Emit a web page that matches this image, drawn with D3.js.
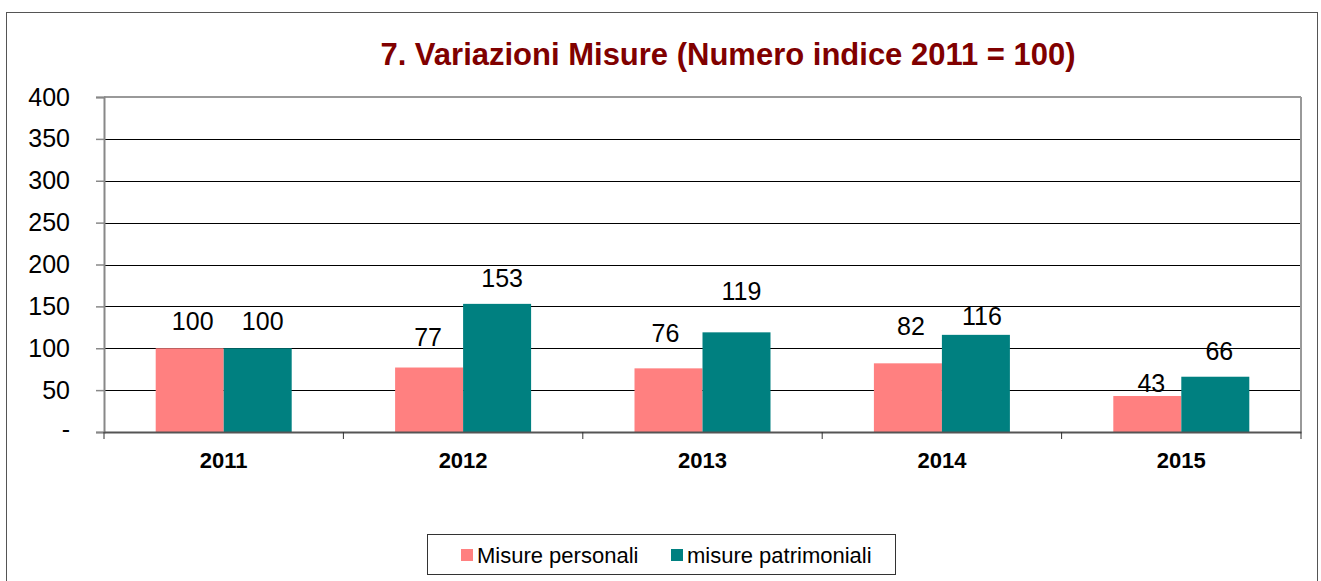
<!DOCTYPE html>
<html lang="it">
<head>
<meta charset="utf-8">
<title>7. Variazioni Misure</title>
<script src="https://cdn.jsdelivr.net/npm/d3@7"></script>
<style>
  body { margin: 0; background: #fff; }
  svg { display: block; font-family: Arial, "Liberation Sans", sans-serif; }
</style>
</head>
<body>
<svg id="chart" width="1321" height="581"></svg>
<script>
// data
var years = ["2011", "2012", "2013", "2014", "2015"];
var personali = [100, 77, 76, 82, 43];
var patrimoniali = [100, 153, 119, 116, 66];
var seriesNames = ["Misure personali", "misure patrimoniali"];
var yTicks = [0, 50, 100, 150, 200, 250, 300, 350, 400];

// label nudges (px) - labels were dragged around in the original
var nudgePers = [[3, -18], [-1, -22], [-3, -26], [3, -28], [4, -4]];
var nudgePatr = [[5, -18], [5, -17], [5, -32], [6, -10], [4, -17]];

var colors = ["#FF8080", "#008080"];

var svg = d3.select("#chart");
var plotL = 104, plotR = 1301, plotT = 97, plotB = 432;

// outer frame
svg.append("rect")
  .attr("x", 6.5).attr("y", 12.5)
  .attr("width", 1311).attr("height", 600)
  .attr("fill", "none").attr("stroke", "#555").attr("stroke-width", 1);

svg.append("text")
  .attr("x", 728).attr("y", 65)
  .attr("text-anchor", "middle")
  .attr("font-size", 31).attr("font-weight", "bold")
  .attr("fill", "#800000")
  .text("7. Variazioni Misure (Numero indice 2011 = 100)");

var x = d3.scaleBand().domain(years).range([plotL, plotR]).paddingInner(0).paddingOuter(0);
var y = d3.scaleLinear().domain([0, 400]).range([plotB, plotT]);
var barW = 68;

// gridlines
svg.append("g").selectAll("line")
  .data(yTicks.filter(function(d) { return d > 0 && d < 400; }))
  .enter().append("line")
  .attr("x1", plotL).attr("x2", plotR)
  .attr("y1", function(d) { return Math.round(y(d)) + 0.5; })
  .attr("y2", function(d) { return Math.round(y(d)) + 0.5; })
  .attr("stroke", "#000").attr("stroke-width", 1);

// bars
var groups = svg.append("g").selectAll("g")
  .data(years).enter().append("g");

groups.append("rect")
  .attr("x", function(d) { return x(d) + x.bandwidth() / 2 - barW; })
  .attr("y", function(d, i) { return y(personali[i]); })
  .attr("width", barW)
  .attr("height", function(d, i) { return plotB - y(personali[i]); })
  .attr("fill", colors[0]);

groups.append("rect")
  .attr("x", function(d) { return x(d) + x.bandwidth() / 2; })
  .attr("y", function(d, i) { return y(patrimoniali[i]); })
  .attr("width", barW)
  .attr("height", function(d, i) { return plotB - y(patrimoniali[i]); })
  .attr("fill", colors[1]);

// value labels
groups.append("text")
  .attr("x", function(d, i) { return x(d) + x.bandwidth() / 2 - barW / 2 + nudgePers[i][0]; })
  .attr("y", function(d, i) { return y(personali[i]) + nudgePers[i][1]; })
  .attr("text-anchor", "middle").attr("font-size", 25).attr("fill", "#000")
  .text(function(d, i) { return personali[i]; });

groups.append("text")
  .attr("x", function(d, i) { return x(d) + x.bandwidth() / 2 + barW / 2 + nudgePatr[i][0]; })
  .attr("y", function(d, i) { return y(patrimoniali[i]) + nudgePatr[i][1]; })
  .attr("text-anchor", "middle").attr("font-size", 25).attr("fill", "#000")
  .text(function(d, i) { return patrimoniali[i]; });

// plot frame (gray)
svg.append("line").attr("x1", plotL).attr("x2", plotR).attr("y1", plotT).attr("y2", plotT)
  .attr("stroke", "#999").attr("stroke-width", 2);
svg.append("line").attr("x1", plotR).attr("x2", plotR).attr("y1", plotT).attr("y2", plotB)
  .attr("stroke", "#999").attr("stroke-width", 2);

// y axis
var yAxis = d3.axisLeft(y).tickValues(yTicks).tickSize(8).tickPadding(26)
  .tickFormat(function(d) { return d === 0 ? "-" : d; });
var gy = svg.append("g").attr("transform", "translate(" + plotL + ",0)").call(yAxis);
gy.select(".domain").attr("stroke", "#888").attr("stroke-width", 2);
gy.selectAll(".tick line").attr("stroke", "#888").attr("stroke-width", 1.5);
gy.selectAll(".tick text").attr("font-size", 25).attr("fill", "#000")
  .attr("font-family", "Arial, 'Liberation Sans', sans-serif");
gy.select(".tick text").attr("dy", "0.2em");

// x axis
var xAxis = d3.axisBottom(x).tickSize(0).tickPadding(20);
var gx = svg.append("g").attr("transform", "translate(0," + plotB + ")").call(xAxis);
gx.select(".domain").attr("stroke", "#555").attr("stroke-width", 2);
gx.selectAll(".tick text").attr("font-size", 22).attr("font-weight", "bold").attr("fill", "#000")
  .attr("font-family", "Arial, 'Liberation Sans', sans-serif");
// category separators
gx.selectAll(".sep")
  .data(years.concat(["end"]))
  .enter().append("line")
  .attr("x1", function(d, i) { return plotL + i * x.bandwidth(); })
  .attr("x2", function(d, i) { return plotL + i * x.bandwidth(); })
  .attr("y1", 0).attr("y2", 7)
  .attr("stroke", "#333").attr("stroke-width", 1);

// legend
var lg = svg.append("g");
lg.append("rect").attr("x", 427.5).attr("y", 534.5).attr("width", 468).attr("height", 40)
  .attr("fill", "#fff").attr("stroke", "#333").attr("stroke-width", 1);
var legendX = [461, 671];
lg.selectAll(".sw").data(seriesNames).enter().append("rect")
  .attr("x", function(d, i) { return legendX[i]; }).attr("y", 549)
  .attr("width", 12).attr("height", 12)
  .attr("fill", function(d, i) { return colors[i]; });
lg.selectAll(".lt").data(seriesNames).enter().append("text")
  .attr("x", function(d, i) { return legendX[i] + 16; }).attr("y", 563)
  .attr("font-size", 22).attr("fill", "#000")
  .text(function(d) { return d; });
</script>
</body>
</html>
